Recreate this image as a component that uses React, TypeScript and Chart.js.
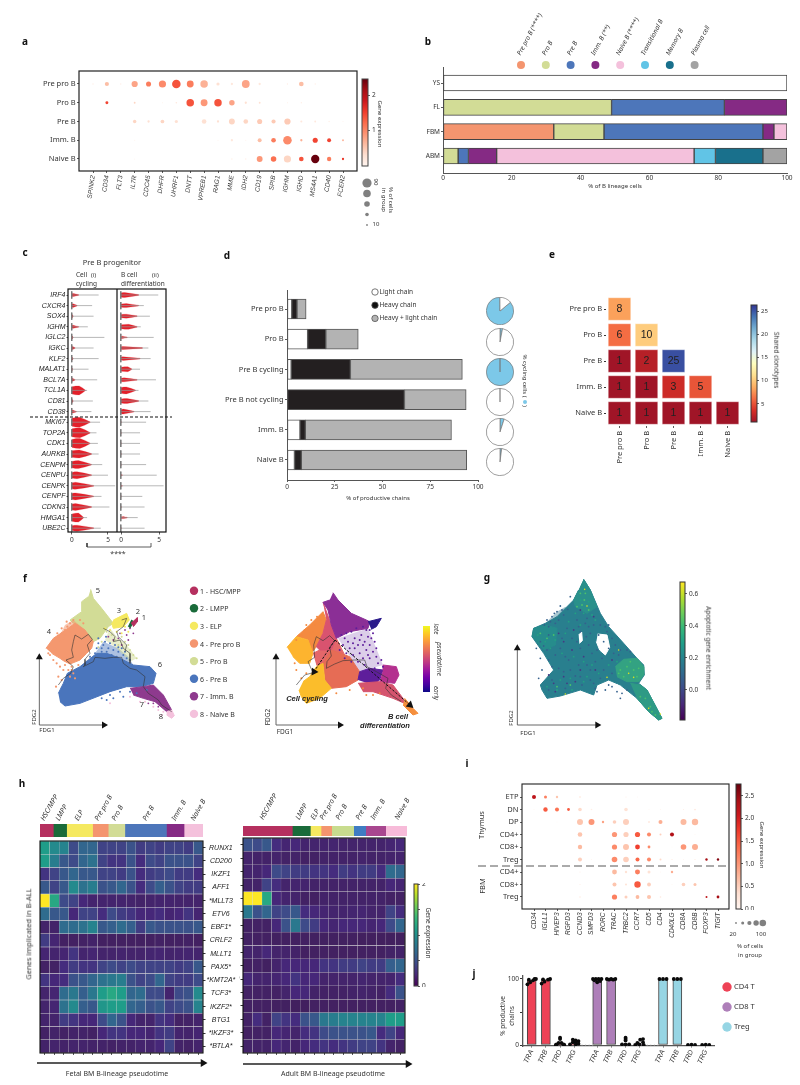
import React, { useEffect, useRef } from "react";
import { Chart, registerables } from "chart.js";
Chart.register(...registerables);

const SANS = '"Noto Sans", sans-serif';
const GENE = '"Liberation Sans", Arial, sans-serif';

/* ---------- colours ---------- */
const REDS = ["#FFF5F0", "#FEE0D2", "#FCBBA1", "#FC9272", "#FB6A4A", "#EF3B2C", "#CB181D", "#A50F15", "#67000D"];
const VIRIDIS = ["#440154", "#482878", "#3E4A89", "#31688E", "#26828E", "#1F9E89", "#35B779", "#6DCD59", "#B4DE2C", "#FDE725"];
const HEATMAP = ["#42205E", "#46287C", "#3E4A89", "#31688E", "#26828E", "#1F9E89", "#35B779", "#6DCD59", "#B4DE2C", "#FDE725"];
const PLASMA = ["#0D0887", "#46039F", "#7201A8", "#9C179E", "#BD3786", "#D8576B", "#ED7953", "#FB9F3A", "#FDCA26", "#F0F921"];
const RDYLBU = ["#A01527", "#D73027", "#F46D43", "#FDAE61", "#FEE090", "#FFFFBF", "#E0F3F8", "#ABD9E9", "#74ADD1", "#4575B4", "#313695"];
const C = { prepro: "#F4956F", pro: "#D2DC96", pre: "#4D76BA", imm: "#852A84", naive: "#F4C1DC", trans: "#61C4E6", mem: "#19708C", plasma: "#A3A3A3", hsc: "#B5305F", lmpp: "#1A6B3A", elp: "#F5E960" };

function mix(stops: string[], t: number) {
  const u = Math.max(0, Math.min(1, t)) * (stops.length - 1);
  const i = Math.min(stops.length - 2, Math.floor(u));
  const f = u - i;
  const p = (h: string, k: number) => parseInt(h.slice(1 + k * 2, 3 + k * 2), 16);
  const c = [0, 1, 2].map((k) => Math.round(p(stops[i], k) * (1 - f) + p(stops[i + 1], k) * f));
  return `rgb(${c[0]},${c[1]},${c[2]})`;
}

/* ---------- panel a ---------- */
const aGenes = ["SPINK2", "CD34", "FLT3", "IL7R", "CDC45", "DHFR", "UHRF1", "DNTT", "VPREB1", "RAG1", "MME", "IDH2", "CD19", "SPIB", "IGHM", "IGHD", "MS4A1", "CD40", "FCER2"];
const aRows = ["Pre pro B", "Pro B", "Pre B", "Imm. B", "Naive B"];
const aPct = [
  [2, 20, 2, 45, 30, 60, 85, 55, 65, 12, 6, 70, 6, 0, 2, 25, 2, 0, 0],
  [0, 10, 0, 4, 0, 1, 3, 65, 55, 65, 35, 6, 4, 0, 1, 2, 0, 0, 0],
  [0, 0, 0, 14, 6, 16, 12, 0, 25, 6, 40, 25, 30, 20, 45, 5, 4, 2, 1],
  [0, 0, 0, 1, 0, 0, 0, 0, 0, 1, 6, 1, 18, 25, 85, 6, 30, 18, 4],
  [0, 0, 0, 1, 0, 0, 0, 0, 0, 0, 2, 2, 40, 35, 60, 25, 80, 22, 6],
];
const aExpr = [
  [0.1, 0.6, 0.1, 0.8, 1.1, 1, 1.4, 1.1, 0.7, 0.3, 0.2, 0.8, 0.2, 0, 0.1, 0.6, 0.1, 0, 0],
  [0, 1.5, 0, 0.4, 0, 0.05, 0.2, 1.4, 0.9, 1.4, 0.8, 0.3, 0.3, 0, 0.1, 0.1, 0, 0, 0],
  [0, 0, 0, 0.4, 0.3, 0.4, 0.3, 0, 0.3, 0.3, 0.4, 0.4, 0.5, 0.5, 0.5, 0.2, 0.2, 0.1, 0.05],
  [0, 0, 0, 0.05, 0, 0, 0, 0, 0, 0.05, 0.2, 0.05, 0.6, 1.1, 1, 0.7, 1.5, 1.5, 0.7],
  [0, 0, 0, 0.05, 0, 0, 0, 0, 0, 0, 0.1, 0.1, 0.9, 1.2, 0.4, 1.4, 2.5, 1.1, 1.6],
];

/* ---------- panel b ---------- */
const bRows = ["YS", "FL", "FBM", "ABM"];
const bNone = [100, 0, 0, 0];
const bPrePro = [0, 0, 32.2, 0];
const bPro = [0, 49, 14.6, 4.4];
const bPre = [0, 32.8, 46.2, 3];
const bImm = [0, 18.2, 3.2, 8.2];
const bNaive = [0, 0, 3.8, 57.4];
const bTrans = [0, 0, 0, 6.2];
const bMem = [0, 0, 0, 13.8];
const bPlasma = [0, 0, 0, 7];
const bLegend = ["Pre pro B (****)", "Pro B", "Pre B", "Imm. B (**)", "Naive B (****)", "Transitional B", "Memory B", "Plasma cell"];

/* ---------- panel c ---------- */
const cGenes = ["IRF4", "CXCR4", "SOX4", "IGHM", "IGLC2", "IGKC", "KLF2", "MALAT1", "BCL7A", "TCL1A", "CD81", "CD38", "MKI67", "TOP2A", "CDK1", "AURKB", "CENPM", "CENPU", "CENPK", "CENPF", "CDKN3", "HMGA1", "UBE2C"];
const cTailA = [3.7, 2.8, 3, 2.2, 4.5, 3, 3.7, 2.3, 3.5, 2.1, 2.9, 2.7, 3.9, 3.4, 3.6, 3.7, 4.2, 5, 6, 4.1, 5.2, 2.1, 4];
const cBodyA = [0.9, 0.7, 0.15, 0.9, 0.15, 0.4, 0.15, 0.1, 0.4, 1.85, 0.15, 0.6, 2.5, 2.5, 2.5, 2.7, 2.7, 2.7, 3, 3, 2.7, 1.6, 3];
const cPeakA = [0.2, 0.15, 0.05, 0.2, 0.05, 0.1, 0.05, 0.05, 0.1, 1, 0.05, 0.1, 1, 1.1, 1.1, 1, 0.9, 0.7, 0.5, 0.5, 0.5, 0.9, 0.7];
const cDensA = [1.5, 1.8, 1.5, 1.5, 1.5, 1.5, 1.5, 1.2, 1.5, 4.5, 1.5, 1.5, 5, 5, 5, 4, 4, 3.5, 3.5, 3.5, 3.5, 4.5, 3];
const cTailB = [4.9, 3, 3.8, 2.6, 4.3, 3.6, 3.9, 2.5, 4.6, 2.3, 3.6, 3.9, 3.3, 2.5, 2.5, 2.5, 3.3, 4.7, 5.6, 2.8, 3.1, 2.2, 3.1];
const cBodyB = [2.3, 2.3, 2.1, 2.1, 0.8, 2.8, 2.5, 1.4, 2.1, 1.9, 2.3, 1.7, 0.1, 0.1, 0.1, 0.1, 0.1, 0.15, 0.15, 0.1, 0.1, 0.8, 0.1];
const cPeakB = [0.5, 0.7, 0.7, 1, 0.2, 0.3, 0.3, 0.9, 0.4, 0.7, 0.8, 0.3, 0.05, 0.05, 0.05, 0.05, 0.05, 0.05, 0.05, 0.05, 0.05, 0.3, 0.05];
const cDensB = [2.5, 2, 2, 2.5, 1.2, 1.5, 1.8, 2.5, 2, 3.5, 2.5, 2.5, 0.8, 0.8, 0.8, 0.8, 0.8, 0.8, 0.8, 0.8, 0.8, 1, 0.8];

/* ---------- panel d ---------- */
const dRows = ["Pre pro B", "Pro B", "Pre B cycling", "Pre B not cycling", "Imm. B", "Naive B"];
const dLight = [2.5, 10.8, 2.2, 0, 6.8, 3.9];
const dHeavy = [2.7, 9.5, 31, 61.5, 2.8, 3.6];
const dBoth = [4.8, 17, 58.6, 32.3, 76.5, 86.6];
const dCycling = [86, 3, 100, 0, 5, 2];

/* ---------- panel e ---------- */
const eLabels = ["Pre pro B", "Pro B", "Pre B", "Imm. B", "Naive B"];
const eValues = [[8], [6, 10], [1, 2, 25], [1, 1, 3, 5], [1, 1, 1, 1, 1]];

/* ---------- panel f (in FDG units) ---------- */
const fLegend = ["1 - HSC/MPP", "2 - LMPP", "3 - ELP", "4 - Pre pro B", "5 - Pro B", "6 - Pre B", "7 - Imm. B", "8 - Naive B"];
type P = number[][];
const fProB: P = [[182, 58], [190, 85], [215, 115], [250, 160], [235, 170], [210, 205], [190, 215], [165, 180], [130, 160], [120, 150], [155, 125], [155, 95], [175, 80]];
const fPrePro: P = [[48, 235], [70, 205], [110, 178], [135, 160], [165, 180], [190, 215], [185, 235], [170, 250], [150, 270], [120, 282], [100, 272], [90, 265], [65, 250]];
const fPreProFuzz: P = [[85, 205], [105, 165], [130, 150], [165, 180], [120, 190]];
const fPre: P = [[85, 370], [100, 340], [112, 310], [150, 290], [200, 250], [230, 250], [270, 265], [310, 285], [360, 290], [378, 310], [370, 340], [335, 350], [290, 350], [240, 365], [150, 400], [105, 408], [90, 395]];
const fPreFuzz: P = [[195, 250], [220, 215], [265, 235], [295, 260], [310, 285], [230, 252]];
const fGreenFuzz: P = [[240, 175], [260, 200], [290, 225], [320, 265], [300, 275], [260, 235], [225, 210]];
const fImm: P = [[300, 355], [340, 350], [370, 345], [400, 375], [425, 420], [410, 425], [375, 395], [340, 385], [310, 375]];
const fNaive: P = [[410, 425], [425, 420], [433, 437], [425, 445], [410, 435]];
const fElp: P = [[250, 150], [290, 130], [298, 150], [280, 170], [250, 175], [245, 160]];
const fHsc: P = [[303, 160], [322, 143], [322, 155], [310, 170]];
const fLmpp: P = [[295, 170], [305, 150], [310, 155], [300, 175]];
const fDotsOrange: P = [[105, 180], [112, 170], [120, 160], [130, 150], [95, 190], [85, 200], [140, 165], [120, 185], [105, 195], [150, 150], [128, 172], [160, 160], [100, 205], [92, 215], [75, 235], [80, 280], [70, 270], [100, 300], [120, 320], [130, 310], [90, 290], [115, 300], [60, 255], [55, 250], [85, 320], [95, 330], [78, 350], [125, 300], [135, 325], [110, 155], [95, 175], [82, 190], [105, 285], [125, 290], [145, 285]];
const fDotsBlue: P = [[200, 235], [220, 225], [215, 245], [235, 235], [250, 240], [240, 220], [265, 245], [280, 255], [225, 215], [205, 220], [255, 225], [290, 265], [300, 270], [275, 235], [245, 255], [215, 235], [195, 250], [230, 245], [260, 260], [180, 260], [170, 275], [285, 245], [120, 330], [105, 345], [95, 355], [200, 375], [240, 375], [270, 365], [300, 365], [320, 370], [280, 380], [250, 385], [350, 360], [230, 390], [215, 385], [265, 232], [205, 205], [228, 200]];
const fDotsGreen: P = [[230, 185], [245, 195], [255, 210], [265, 225], [285, 215], [300, 240], [310, 255], [320, 265], [275, 200], [295, 225], [215, 215], [205, 232]];
const fDotsPurple: P = [[250, 210], [270, 190], [290, 195], [300, 175], [285, 180], [265, 205], [310, 190], [295, 210], [330, 365], [320, 375], [345, 380], [360, 385], [370, 400], [385, 410], [355, 400], [235, 200], [275, 225]];
const fDotsPink: P = [[385, 420], [400, 425], [395, 435], [370, 410], [345, 395], [240, 400], [300, 380], [330, 395]];
const fDotsYellow: P = [[225, 175], [240, 180], [260, 185], [275, 190], [295, 185], [285, 170]];
const fTrackA: P = [[85, 345], [100, 325], [122, 310], [130, 290], [108, 270], [130, 262], [125, 240], [130, 215], [135, 195], [155, 207], [175, 193], [187, 208], [172, 225], [180, 250], [165, 268], [165, 285], [160, 290], [190, 275], [195, 262], [225, 265], [250, 262], [275, 262], [280, 280], [300, 295], [320, 300], [345, 320], [340, 350], [355, 370], [385, 390], [395, 405], [425, 425]];
const fTrackB: P = [[220, 175], [240, 185], [255, 200], [250, 215], [270, 210], [280, 235], [300, 250], [300, 280]];
const fTrackC: P = [[275, 150], [290, 145], [280, 170], [260, 185], [265, 200], [290, 225], [285, 245]];

const ptUpper: P = [[800, 200], [840, 165], [880, 125], [890, 150], [880, 190], [860, 230], [845, 250], [835, 210]];
const ptLeft: P = [[772, 232], [800, 200], [835, 210], [850, 250], [840, 280], [810, 280], [790, 260]];
const ptPink: P = [[880, 97], [905, 165], [920, 205], [905, 240], [870, 240], [860, 230], [880, 190], [890, 150]];
const ptTop: P = [[910, 68], [925, 90], [965, 130], [1010, 150], [1020, 155], [1015, 175], [960, 185], [920, 205], [905, 165], [895, 120], [880, 97], [900, 90]];
const ptTip: P = [[1015, 155], [1055, 145], [1040, 170], [1025, 178]];
const ptMid: P = [[850, 250], [870, 240], [905, 240], [920, 205], [945, 255], [905, 295], [860, 285]];
const ptLowMid: P = [[880, 280], [905, 240], [960, 260], [990, 305], [985, 330], [950, 350], [905, 355], [885, 330]];
const ptLowLeft: P = [[820, 335], [840, 320], [860, 290], [880, 280], [885, 330], [905, 355], [870, 385], [830, 400], [815, 380], [808, 360]];
const ptViolet: P = [[985, 330], [990, 305], [1020, 295], [1060, 300], [1050, 330], [1030, 345]];
const ptMagenta: P = [[1060, 300], [1060, 285], [1100, 290], [1108, 315], [1095, 340], [1050, 335]];
const ptTail: P = [[985, 340], [1050, 335], [1090, 345], [1120, 385], [1125, 400], [1090, 385], [1030, 365], [1000, 365]];
const ptEnd: P = [[1125, 385], [1150, 415], [1165, 430], [1150, 435], [1120, 405]];
const ptFuzz: P = [[925, 205], [1015, 175], [1060, 285], [990, 305], [960, 258]];
const ptDotsPurple: P = [[935, 195], [950, 190], [965, 185], [980, 175], [1000, 170], [1020, 180], [1030, 190], [1015, 200], [995, 195], [975, 205], [955, 215], [940, 225], [960, 235], [985, 225], [1005, 215], [1020, 225], [1035, 215], [1010, 240], [990, 250], [970, 255], [950, 250], [1000, 265], [1020, 265], [1040, 260], [1030, 245], [985, 275], [1005, 285], [1045, 280], [1055, 270], [965, 275], [945, 265], [930, 240], [975, 235], [1000, 225], [1015, 255], [1060, 290], [1035, 295], [1010, 180], [990, 210], [945, 205], [1025, 205], [970, 220], [1040, 235]];
const ptDotsOrange: P = [[810, 195], [825, 180], [840, 190], [855, 165], [870, 160], [830, 165], [850, 185], [800, 210], [818, 195], [845, 150], [862, 140], [875, 150], [800, 300], [815, 325], [830, 310], [795, 280], [1010, 375], [1030, 375], [1050, 370], [1000, 355], [960, 360], [920, 370]];
const ptTrack: P = [[800, 345], [825, 315], [850, 308], [835, 275], [855, 262], [852, 225], [860, 200], [880, 212], [900, 197], [915, 212], [900, 232], [905, 258], [892, 275], [890, 295], [915, 282], [940, 272], [975, 270], [1005, 270], [1012, 290], [1040, 305], [1075, 325], [1068, 355], [1085, 375], [1115, 395]];

/* ---------- panel g ---------- */
const gBody: P = [[310, 28], [330, 60], [360, 130], [385, 170], [430, 220], [470, 265], [490, 285], [492, 315], [475, 340], [500, 360], [545, 445], [535, 450], [505, 425], [470, 385], [420, 345], [385, 330], [350, 345], [340, 375], [300, 360], [240, 378], [200, 385], [185, 360], [180, 345], [220, 300], [190, 250], [155, 200], [160, 175], [195, 160], [230, 140], [280, 90], [295, 60]];
const gTop: P = [[310, 28], [330, 60], [350, 110], [320, 130], [285, 110], [280, 90], [295, 60]];
const gLeft: P = [[155, 200], [160, 175], [195, 165], [230, 175], [225, 225], [190, 240]];
const gRight: P = [[405, 290], [430, 268], [470, 265], [490, 290], [490, 315], [475, 335], [440, 335], [410, 320]];
const gTailArea: P = [[450, 340], [480, 345], [500, 360], [545, 445], [535, 450], [505, 425], [470, 385]];
const gHoleA: P = [[352, 192], [380, 195], [388, 232], [375, 255], [358, 240], [348, 215]];
const gHoleB: P = [[295, 195], [304, 186], [306, 212], [297, 220]];
const gHoleC: P = [[378, 338], [412, 345], [398, 355], [380, 350], [360, 346]];
const gFuzz: P = [[195, 160], [230, 125], [255, 110], [270, 135], [230, 170]];
const gDotsDark: P = [[200, 150], [215, 140], [230, 125], [240, 108], [245, 120], [222, 130], [210, 155], [235, 150], [250, 135], [262, 118], [270, 80], [192, 165], [205, 170], [225, 160], [295, 170], [300, 185], [315, 160], [325, 170], [340, 165], [360, 165], [375, 170], [385, 165], [380, 185], [395, 205], [405, 225], [420, 240], [415, 255], [400, 250], [385, 235], [370, 215], [355, 195], [330, 190], [318, 200], [290, 215], [300, 235], [325, 225], [350, 240], [365, 265], [335, 250], [440, 240], [450, 245], [375, 360], [395, 350], [410, 365], [425, 370], [350, 365], [440, 360], [420, 385], [340, 340], [345, 355], [330, 330], [360, 325], [305, 345], [385, 345], [190, 228], [168, 235], [180, 265], [185, 300], [175, 325], [215, 290], [225, 255], [205, 270], [200, 240], [240, 235], [255, 260], [270, 300], [320, 145], [290, 150], [260, 175], [275, 205], [245, 205], [205, 195], [180, 215], [235, 295], [265, 270], [295, 285], [320, 285], [345, 275], [300, 320], [250, 305], [215, 330], [205, 360], [255, 355], [285, 318], [330, 300], [370, 300], [395, 310]];
const gDotsTeal: P = [[300, 90], [325, 95], [310, 130], [335, 135], [285, 130], [265, 155], [300, 165], [345, 150], [255, 190], [225, 210], [195, 215], [172, 195], [210, 235], [245, 250], [280, 260], [310, 275], [335, 285], [355, 310], [385, 285], [410, 275], [240, 330], [200, 350], [270, 325], [310, 335], [230, 360], [275, 360], [320, 320]];
const gDotsPurple: P = [[250, 215], [275, 240], [300, 300], [310, 260], [220, 340], [260, 340], [345, 300], [395, 270], [340, 140], [300, 120], [280, 180], [235, 190], [205, 315], [250, 320], [225, 365], [285, 335]];
const gDotsGreen: P = [[300, 70], [312, 90], [325, 120], [290, 110], [180, 190], [200, 205], [220, 195], [420, 300], [440, 290], [460, 300], [470, 320], [430, 320], [480, 380], [510, 410], [525, 435], [230, 350], [270, 345], [315, 70], [305, 105], [450, 275], [475, 295], [415, 310], [495, 385], [515, 425]];
const gDotsYellow: P = [[313, 58], [320, 108], [415, 240], [380, 322], [445, 310], [460, 322], [540, 432], [505, 415], [255, 372]];

/* ---------- panel h ---------- */
const hGenes = ["RUNX1", "CD200", "IKZF1", "AFF1", "*MLLT3", "ETV6", "EBF1*", "CRLF2", "MLLT1", "PAX5*", "*KMT2A*", "TCF3*", "IKZF2*", "BTG1", "*IKZF3*", "*BTLA*"];
const hFetal = [
  [1.1, 0.95, 0.9, 0.45, 0.65, 0.65, 0.4, 0.4, 0.4, 0.5, 0.35, 0.4, 0.35, 0.4, 0.4, 0.35, 0.55],
  [1.1, 0.85, 0.55, 0.45, 0.65, 0.75, 0.4, 0.3, 0.3, 0.5, 0.25, 0.45, 0.4, 0.5, 0.5, 0.5, 0.4],
  [0.3, 0.4, 0.55, 0.65, 0.55, 0.55, 0.4, 0.4, 0.35, 0.5, 0.25, 0.35, 0.4, 0.45, 0.35, 0.35, 0.25],
  [0.55, 0.4, 0.55, 0.95, 0.75, 0.85, 0.5, 0.55, 0.65, 0.5, 0.25, 0.45, 0.6, 0.5, 0.4, 0.35, 0.35],
  [2, 1.2, 0.45, 0.4, 0.2, 0.12, 0.12, 0.12, 0.12, 0.1, 0.08, 0.1, 0.12, 0.12, 0.1, 0.1, 0.1],
  [0.7, 0.55, 0.55, 0.2, 0.4, 0.4, 0.25, 0.45, 0.35, 0.3, 0.2, 0.2, 0.25, 0.15, 0.2, 0.3, 0.15],
  [0.08, 0.08, 0.7, 0.7, 0.75, 0.9, 0.55, 0.6, 0.7, 0.6, 0.35, 0.55, 0.5, 0.5, 0.5, 0.5, 0.55],
  [0.35, 0.15, 0.04, 0.04, 0.05, 0.08, 0.03, 0.03, 0.03, 0.03, 0.03, 0.03, 0.05, 0.03, 0.04, 0.05, 0.03],
  [0.15, 0.12, 0.15, 0.3, 0.12, 0.15, 0.1, 0.1, 0.12, 0.1, 0.1, 0.13, 0.15, 0.1, 0.12, 0.13, 0.12],
  [0.05, 0.05, 0.25, 0.35, 0.3, 0.3, 0.4, 0.45, 0.4, 0.45, 0.4, 0.4, 0.4, 0.4, 0.35, 0.4, 0.55],
  [0.3, 0.2, 0.25, 0.5, 0.55, 0.65, 0.75, 0.8, 0.85, 0.5, 0.4, 0.45, 0.65, 0.4, 0.35, 0.35, 0.45],
  [0.1, 0.15, 0.7, 0.8, 0.6, 0.8, 1.1, 1.2, 1.1, 0.65, 0.7, 0.45, 0.45, 0.12, 0.45, 0.5, 0.95],
  [0.1, 0.15, 0.75, 0.95, 0.6, 0.55, 1.05, 1.1, 1.1, 0.65, 0.6, 0.5, 0.55, 0.4, 0.45, 0.5, 0.9],
  [0.1, 0.1, 0.35, 0.3, 0.2, 0.2, 0.45, 0.65, 0.5, 0.2, 0.1, 0.1, 0.3, 0.25, 0.05, 0.07, 0.1],
  [0.05, 0.08, 0.05, 0.08, 0.08, 0.05, 0.2, 0.3, 0.3, 0.2, 0.2, 0.15, 0.3, 0.35, 0.12, 0.1, 0.15],
  [0.08, 0.1, 0.08, 0.1, 0.1, 0.08, 0.08, 0.06, 0.08, 0.08, 0.12, 0.12, 0.2, 0.4, 0.08, 0.06, 0.1],
];
const hAdult = [
  [0.5, 0.45, 0.55, 0.25, 0.15, 0.2, 0.12, 0.12, 0.12, 0.13, 0.1, 0.1, 0.1, 0.1, 0.1, 0.15, 0.2],
  [0.1, 0.08, 0.08, 0.1, 0.07, 0.08, 0.05, 0.05, 0.08, 0.08, 0.08, 0.08, 0.1, 0.08, 0.08, 0.1, 0.12],
  [0.12, 0.12, 0.2, 0.45, 0.4, 0.35, 0.35, 0.3, 0.3, 0.25, 0.35, 0.3, 0.35, 0.35, 0.25, 0.7, 0.65],
  [0.08, 0.08, 0.4, 0.25, 0.1, 0.12, 0.12, 0.08, 0.08, 0.08, 0.08, 0.08, 0.08, 0.08, 0.08, 0.2, 0.15],
  [2, 2, 1.2, 0.2, 0.12, 0.1, 0.05, 0.04, 0.08, 0.08, 0.08, 0.08, 0.08, 0.08, 0.08, 0.05, 0.05],
  [0.8, 0.5, 0.65, 0.4, 0.45, 0.55, 0.25, 0.2, 0.15, 0.12, 0.12, 0.13, 0.15, 0.1, 0.1, 0.4, 0.25],
  [0.05, 0.05, 0.05, 0.2, 0.5, 0.8, 0.45, 0.35, 0.2, 0.15, 0.2, 0.2, 0.2, 0.15, 0.2, 0.45, 0.65],
  [0.05, 0.04, 0.04, 0.02, 0.02, 0.02, 0.03, 0.02, 0.02, 0.02, 0.02, 0.02, 0.01, 0.01, 0.01, 0.01, 0.01],
  [0.12, 0.1, 0.2, 0.1, 0.1, 0.08, 0.03, 0.03, 0.04, 0.03, 0.03, 0.03, 0.03, 0.03, 0.03, 0.07, 0.08],
  [0.04, 0.05, 0.02, 0.1, 0.2, 0.2, 0.2, 0.2, 0.3, 0.3, 0.35, 0.35, 0.4, 0.35, 0.35, 0.6, 0.65],
  [0.2, 0.12, 0.12, 0.15, 0.2, 0.3, 0.2, 0.2, 0.1, 0.1, 0.1, 0.1, 0.13, 0.1, 0.1, 0.12, 0.25],
  [0.05, 0.05, 0.05, 0.05, 0.1, 0.2, 0.2, 0.08, 0.06, 0.06, 0.06, 0.08, 0.1, 0.08, 0.06, 0.25, 0.5],
  [0.04, 0.04, 0.04, 0.02, 0.02, 0.01, 0.01, 0.03, 0.03, 0.03, 0.03, 0.03, 0.03, 0.03, 0.03, 0.03, 0.05],
  [0.06, 0.25, 0.06, 0.4, 0.3, 0.25, 0.5, 0.55, 0.8, 0.85, 0.9, 0.9, 0.9, 0.9, 0.9, 1.1, 1.1],
  [0.03, 0.05, 0.05, 0.2, 0.15, 0.1, 0.25, 0.3, 0.45, 0.5, 0.5, 0.5, 0.5, 0.55, 0.25, 0.4, 0.2],
  [0.08, 0.08, 0.08, 0.2, 0.13, 0.08, 0.2, 0.25, 0.3, 0.25, 0.3, 0.35, 0.4, 0.4, 0.3, 0.1, 0.05],
];
const hStages = ["HSC/MPP", "LMPP", "ELP", "Pre pro B", "Pro B", "Pre B", "Imm. B", "Naive B"];
const hFetalShare = [40, 40, 78, 47, 50, 125, 53, 57];
const hAdultShare = [148, 54, 32, 32, 66, 36, 60, 64];
const hStageColors = [C.hsc, C.lmpp, C.elp, C.prepro, C.pro, C.pre, C.imm, C.naive];
const hAdultColors = [C.hsc, C.lmpp, C.elp, C.prepro, "#C8DC8E", "#3F7CC2", "#A8478F", "#F7BBD9"];

/* ---------- panel i ---------- */
const iGenes = ["CD34", "IGLL1", "HIVEP3", "RGPD3", "CCND3", "SMPD3", "RORC", "TRAC", "TRBC2", "CCR7", "CD5", "CD4", "CD40LG", "CD8A", "CD8B", "FOXP3", "TIGIT"];
const iRows = ["ETP", "DN", "DP", "CD4+", "CD8+", "Treg", "CD4+", "CD8+", "Treg"];
const iPct = [
  [37, 21, 13, 0, 9, 0, 0, 0, 3, 2, 0, 0, 0, 0, 0, 0, 0],
  [2, 44, 37, 18, 30, 6, 0, 0, 30, 0, 2, 2, 0, 3, 7, 0, 0],
  [0, 0, 1, 0, 83, 83, 13, 30, 83, 0, 6, 37, 0, 83, 94, 0, 0],
  [0, 0, 0, 0, 49, 0, 0, 62, 62, 62, 37, 9, 37, 0, 1, 0, 0],
  [0, 0, 0, 0, 44, 0, 0, 62, 83, 53, 18, 0, 1, 72, 83, 0, 0],
  [0, 0, 0, 0, 37, 2, 0, 72, 72, 37, 37, 9, 3, 2, 3, 13, 13],
  [0, 0, 0, 0, 3, 0, 0, 53, 13, 57, 21, 1, 13, 0, 0, 0, 0],
  [0, 0, 0, 0, 3, 0, 0, 37, 9, 94, 33, 0, 1, 30, 21, 0, 0],
  [0, 0, 0, 0, 6, 0, 0, 62, 21, 33, 37, 6, 0, 0, 0, 9, 18],
];
const iExpr = [
  [2.2, 1.2, 0.6, 0, 0.1, 0, 0, 0, 0.1, 0.05, 0, 0, 0, 0, 0, 0, 0],
  [0.05, 1.5, 1.3, 1.5, 0.4, 0.1, 0, 0, 0.3, 0, 0.05, 0.1, 0, 0.1, 0.2, 0, 0],
  [0, 0, 0.05, 0, 0.6, 1, 0.9, 0.5, 0.5, 0, 0.4, 0.8, 0, 0.7, 0.7, 0, 0],
  [0, 0, 0, 0, 0.6, 0, 0, 1, 0.5, 1.5, 1.1, 0.5, 2.3, 0, 0.1, 0, 0],
  [0, 0, 0, 0, 0.7, 0, 0, 1.1, 0.6, 1.7, 1.1, 0, 0.05, 1, 0.8, 0, 0],
  [0, 0, 0, 0, 0.5, 0.1, 0, 1.1, 0.5, 1.4, 1.1, 0.4, 0.2, 0.1, 0.2, 2.4, 2.6],
  [0, 0, 0, 0, 0.1, 0, 0, 0.7, 0.3, 1.2, 0.3, 0.1, 0.8, 0, 0, 0, 0],
  [0, 0, 0, 0, 0.1, 0, 0, 0.6, 0.3, 1.5, 0.5, 0, 0.1, 0.5, 0.6, 0, 0],
  [0, 0, 0, 0, 0.15, 0, 0, 1.2, 0.5, 0.7, 0.6, 0.2, 0, 0, 0, 2.2, 2.4],
];

/* ---------- panel j ---------- */
const jLabels = ["TRA", "TRB", "TRD", "TRG", "TRA", "TRB", "TRD", "TRG", "TRA", "TRB", "TRD", "TRG"];
const jSlots = [0, 1, 2, 3, 4.62, 5.6, 6.62, 7.6, 9.26, 10.27, 11.27, 12.27];
const jMeans = [98, 99, 1, 1, 98, 99, 1, 1, 99, 99, 0.3, 0.3];
const jColors = ["#EE4256", "#EE4256", "#EE4256", "#EE4256", "#AE7FB9", "#AE7FB9", "#AE7FB9", "#AE7FB9", "#96D5E4", "#96D5E4", "#96D5E4", "#96D5E4"];
const jDots: number[][][] = [
  [[-0.3, 92], [-0.1, 95], [0.1, 98], [0.3, 100], [-0.2, 99], [0.2, 100]],
  [[-0.3, 93], [-0.1, 96], [0.15, 99], [0.3, 100], [-0.2, 99.5]],
  [[0, 11], [0, 9], [-0.25, 1], [0.25, 1], [-0.1, 3], [0.1, 3], [-0.3, 0], [0.3, 0]],
  [[-0.1, 8], [0.1, 7], [0.3, 6], [-0.1, 4], [0.1, 4.5], [-0.3, 1], [0.1, 1], [0.3, 2]],
  [[-0.3, 100], [-0.1, 100], [0.1, 100], [0.3, 100], [0, 95], [-0.2, 98], [0.2, 97]],
  [[-0.3, 100], [0, 100], [0.3, 100], [-0.15, 99], [0.15, 99]],
  [[0, 11], [0, 9], [0, 7], [-0.25, 1], [0.25, 1], [0, 1]],
  [[0.25, 9], [0.05, 8], [-0.15, 3], [0.25, 4], [-0.3, 0], [0, 1], [0.3, 0]],
  [[-0.25, 100], [0, 100], [0.25, 100]],
  [[-0.25, 100], [0, 100], [0.25, 100]],
  [[-0.25, 0], [0, 0.5], [0.25, 0]],
  [[-0.25, 0], [0, 0.5], [0.25, 0]],
];
const jGapDots = [3.55, 3.8, 4.05, 4.3, 8.15, 8.4, 8.65, 8.9];

/* ---------- helpers ---------- */
function rng(p0: number, v0: number, p1: number, v1: number, a: number, b: number) {
  const k = (v1 - v0) / (p1 - p0);
  return [v0 + (a - p0) * k, v0 + (b - p0) * k];
}
const framePlugin = {
  id: "frame",
  afterDraw(chart: any) {
    const f = chart.options.plugins.frame;
    if (!f || !f.width) return;
    const a = chart.chartArea;
    const c = chart.ctx;
    c.save();
    c.strokeStyle = f.color;
    c.lineWidth = f.width;
    c.strokeRect(a.left, a.top, a.right - a.left, a.bottom - a.top);
    c.restore();
  },
};
const cellText = {
  id: "cellText",
  afterDatasetsDraw(chart: any) {
    const ds = chart.data.datasets[0];
    if (!ds || !ds.cellValues) return;
    const meta = chart.getDatasetMeta(0);
    const c = chart.ctx;
    c.save();
    c.font = `10.5px ${GENE}`;
    c.fillStyle = "#222";
    c.textAlign = "center";
    c.textBaseline = "middle";
    meta.data.forEach((el: any, i: number) => c.fillText(String(ds.cellValues[i]), el.x, el.y));
    c.restore();
  },
};

type M = { t: number; r: number; b: number; l: number };
const M0: M = { t: 0, r: 0, b: 0, l: 0 };
type Box = { x: number; y: number; w: number; h: number };

function Plot({ box, m = M0, make }: { box: Box; m?: M; make: () => any }) {
  const ref = useRef<HTMLCanvasElement>(null);
  const W = Math.round(box.w + m.l + m.r);
  const H = Math.round(box.h + m.t + m.b);
  useEffect(() => {
    const cfg = make();
    const o = cfg.options || (cfg.options = {});
    o.responsive = false;
    o.maintainAspectRatio = false;
    o.animation = false;
    o.events = [];
    o.plugins = { legend: { display: false }, tooltip: { enabled: false }, ...(o.plugins || {}) };
    const right = o.scales && o.scales.y && o.scales.y.position === "right";
    if (o.scales) {
      o.layout = { autoPadding: false, padding: { top: m.t, bottom: 0, right: right ? 0 : m.r, left: right ? m.l : 0 } };
      const zero = (s: any) => {
        s.paddingLeft = s.paddingRight = s.paddingTop = s.paddingBottom = 0;
      };
      o.scales.x.afterFit = (s: any) => {
        s.height = m.b;
        zero(s);
      };
      o.scales.y.afterFit = (s: any) => {
        s.width = right ? m.r : m.l;
        zero(s);
      };
    } else {
      o.layout = { autoPadding: false, padding: 0 };
    }
    cfg.plugins = [framePlugin, cellText];
    const chart = new Chart(ref.current as any, cfg);
    return () => chart.destroy();
  }, []);
  return <canvas ref={ref} width={W} height={H} style={{ position: "absolute", left: Math.round(box.x - m.l), top: Math.round(box.y - m.t), width: W, height: H }} />;
}

function hidden(min: number, max: number, extra: any = {}) {
  return { type: "linear", min, max, offset: false, display: true, grid: { display: false, offset: false }, border: { display: false }, ticks: { display: false }, ...extra };
}
function ticked(min: number, max: number, vals: number[], labels: string[], o: any = {}) {
  const { size = 7, family = SANS, style = "normal", color = "#333", rot = 0, tl = 2.5, tw = 0.8, pad = 1.5, border = false, bcolor = "#444", bw = 1, crossAlign = "near", reverse = false, position, stacked } = o;
  const s: any = {
    type: "linear",
    min,
    max,
    reverse,
    offset: false,
    afterBuildTicks: (a: any) => {
      a.ticks = vals.map((value) => ({ value }));
    },
    grid: { display: true, offset: false, drawOnChartArea: false, drawTicks: true, tickLength: tl, tickWidth: tw, tickColor: "#333", color: "rgba(0,0,0,0)" },
    border: { display: border, color: bcolor, width: bw },
    ticks: { display: true, autoSkip: false, padding: pad, color, crossAlign, font: { size, family, style }, maxRotation: rot, minRotation: rot, callback: (_: any, i: number) => labels[i] },
  };
  if (position) s.position = position;
  if (stacked) s.stacked = true;
  return s;
}
const seq = (n: number) => Array.from({ length: n }, (_, i) => i);
const poly = (color: string, pts: P, bw = 1) => ({ data: pts.map(([x, y]) => ({ x, y })), showLine: true, fill: "shape", backgroundColor: color, borderColor: color, borderWidth: bw, pointRadius: 0 });
const dots = (color: string, pts: P, r = 1) => ({ data: pts.map(([x, y]) => ({ x, y })), showLine: false, pointRadius: r, pointBackgroundColor: color, pointBorderWidth: 0 });
const track = (pts: P, color = "#333", w = 0.6) => ({ data: pts.map(([x, y]) => ({ x, y })), showLine: true, borderColor: color, borderWidth: w, pointRadius: 0, fill: false });
const paint = (list: any[]) => list.map((d, i) => ({ ...d, order: list.length - i }));

function matrixDots(pct: number[][], expr: number[][], radius: (p: number) => number, color: (e: number) => string) {
  const data: any[] = [];
  const bg: string[] = [];
  pct.forEach((row, y) =>
    row.forEach((p, x) => {
      if (!p) return;
      data.push({ x, y, r: radius(p) });
      bg.push(color(expr[y][x]));
    })
  );
  return { data, backgroundColor: bg, borderWidth: 0 };
}

function T({ x, y, s = 7.5, rot = 0, it = false, a = "c", w = 400, col = "#333", f = SANS, children }: any) {
  const tx = a === "c" ? "translate(-50%,-50%)" : a === "r" ? "translate(-100%,-50%)" : "translateY(-50%)";
  const origin = a === "c" ? "center center" : a === "r" ? "right center" : "left center";
  return (
    <div style={{ position: "absolute", left: x, top: y, fontSize: s, fontFamily: f, fontStyle: it ? "italic" : "normal", fontWeight: w, color: col, whiteSpace: "nowrap", lineHeight: 1, transform: `${tx} rotate(${rot}deg)`, transformOrigin: origin }}>
      {children}
    </div>
  );
}

function DotRow({ x, y, dx = 0, dy = 0, colors, r, line }: { x: number; y: number; dx?: number; dy?: number; colors: string[]; r: number | number[]; line?: string }) {
  const n = colors.length;
  const left = Math.round(x - 8);
  const top = Math.round(y - 8);
  const w = Math.round(dx * (n - 1) + 16);
  const h = Math.round(dy * (n - 1) + 16);
  return (
    <Plot
      box={{ x: left, y: top, w, h }}
      make={() => ({
        type: "bubble",
        data: { datasets: [{ data: colors.map((_, i) => ({ x: dx ? i : 0, y: dy ? i : 0, r: Array.isArray(r) ? r[i] : r })), backgroundColor: colors, borderColor: line || "rgba(0,0,0,0)", borderWidth: line ? 0.8 : 0 }] },
        options: { scales: { x: hidden((left - x) / (dx || 1), (left + w - x) / (dx || 1)), y: hidden((top - y) / (dy || 1), (top + h - y) / (dy || 1), { reverse: true }) } },
      })}
    />
  );
}

function Colorbar({ box, min, max, stops, vals = [], labels = [], mr = 16, size = 6.5, border = "#333" }: any) {
  return (
    <Plot
      box={box}
      m={{ t: 1, r: mr, b: 1, l: 1 }}
      make={() => ({
        type: "bar",
        data: {
          labels: [""],
          datasets: [
            {
              data: [[min, max]],
              barPercentage: 1,
              categoryPercentage: 1,
              backgroundColor: (c: any) => {
                const a = c.chart.chartArea;
                if (!a) return stops[0];
                const g = c.chart.ctx.createLinearGradient(0, a.bottom, 0, a.top);
                stops.forEach((s: string, i: number) => g.addColorStop(i / (stops.length - 1), s));
                return g;
              },
            },
          ],
        },
        options: {
          plugins: { frame: { color: border, width: 1 } },
          scales: {
            x: { type: "category", display: true, grid: { display: false }, border: { display: false }, ticks: { display: false } },
            y: ticked(min, max, vals, labels, { position: "right", size, tl: 2, pad: 2 }),
          },
        },
      })}
    />
  );
}

function Violin({ box, m, tail, body, peak, dens, xMin, xMax, tickVals, showLabels }: any) {
  return (
    <Plot
      box={box}
      m={m}
      make={() => {
        const rowPx = 10.59;
        const sets: any[] = [];
        cGenes.forEach((_, i) => {
          const h = dens[i] / rowPx;
          const pk = peak[i];
          const bd = body[i];
          const top: P = [[0, i - h * 0.8], [pk * 0.5, i - h * 0.96], [pk, i - h], [(pk + bd) / 2, i - h * 0.6], [bd, i - 0.04]];
          const bottom: P = top.slice(0, -1).reverse().map(([x, y]) => [x, 2 * i - y]);
          sets.push(poly("#E3202A", [...top, [bd, i + 0.04], ...bottom], 0.2));
          sets.push(track([[0, i], [tail[i], i]], "#9A9A9A", 0.7));
          sets.push(track([[-0.03, i - 0.34], [-0.03, i + 0.34]], "#777", 0.9));
        });
        const [yMin, yMax] = rng(295, 0, 528.2, 22, 289, 532);
        return {
          type: "scatter",
          data: { datasets: paint(sets) },
          options: {
            plugins: { frame: { color: "#111", width: 1.2 } },
            scales: {
              x: ticked(xMin, xMax, tickVals, ["0", "5"], { size: 6.5, tl: 2.5, pad: 1.5 }),
              y: showLabels
                ? ticked(yMin, yMax, seq(23), cGenes, { size: 7, family: GENE, style: "italic", reverse: true, color: "#222", tl: 1.5, pad: 1 })
                : hidden(yMin, yMax, { reverse: true }),
            },
          },
        };
      }}
    />
  );
}

function Heat({ box, m, matrix, labelled }: any) {
  return (
    <Plot
      box={box}
      m={m}
      make={() => ({
        type: "bar",
        data: {
          labels: hGenes,
          datasets: seq(17).map((col) => ({
            data: hGenes.map(() => 1),
            backgroundColor: matrix.map((row: number[]) => mix(HEATMAP, row[col] / 2)),
            borderColor: "rgba(165,165,165,0.4)",
            borderWidth: 0.5,
            barPercentage: 1,
            categoryPercentage: 1,
          })),
        },
        options: {
          indexAxis: "y",
          plugins: { frame: { color: "#111", width: 1.1 } },
          scales: {
            x: { ...ticked(0, 17, seq(17).map((v) => v + 0.5), seq(17).map(() => ""), { tl: 2, pad: 0 }), stacked: true },
            y: {
              type: "category",
              stacked: true,
              position: labelled ? "right" : "left",
              grid: { display: true, drawOnChartArea: false, drawTicks: true, tickLength: 2.5, tickColor: "#333", color: "rgba(0,0,0,0)", offset: false },
              border: { display: false },
              ticks: { display: labelled, autoSkip: false, padding: 1, crossAlign: "center", color: "#222", font: { size: 7, family: GENE, style: "italic" } },
            },
          },
        },
      })}
    />
  );
}

function Strip({ box, shares, colors }: any) {
  const total = shares.reduce((a: number, b: number) => a + b, 0);
  return (
    <Plot
      box={box}
      make={() => ({
        type: "bar",
        data: { labels: [""], datasets: shares.map((v: number, i: number) => ({ data: [v], backgroundColor: colors[i], barPercentage: 1, categoryPercentage: 1, borderWidth: 0 })) },
        options: {
          indexAxis: "y",
          scales: {
            x: hidden(0, total, { stacked: true }),
            y: { type: "category", stacked: true, grid: { display: false }, border: { display: false }, ticks: { display: false } },
          },
        },
      })}
    />
  );
}

function Pie({ cx, cy, r, cycling, turn }: any) {
  const size = Math.round(r * 2 + 2);
  return (
    <Plot
      box={{ x: Math.round(cx - size / 2), y: Math.round(cy - size / 2), w: size, h: size }}
      make={() => ({
        type: "pie",
        data: { datasets: [{ data: [cycling, 100 - cycling], backgroundColor: ["#7CC8E8", "#FFFFFF"], borderColor: "#777", borderWidth: 0.7 }] },
        options: { rotation: turn, radius: "100%" },
      })}
    />
  );
}

function lineSet(pts: P, color = "#555", w = 1, dash?: number[]) {
  return { data: pts.map(([x, y]) => ({ x, y })), showLine: true, borderColor: color, borderWidth: w, borderDash: dash || [], pointRadius: 0, fill: false };
}
function headSet(x: number, y: number, deg: number, r = 4, color = "#111") {
  return { data: [{ x, y }], showLine: false, pointStyle: "triangle", pointRadius: r, pointRotation: deg, pointBackgroundColor: color, pointBorderWidth: 0 };
}
const Z6 = (zx: number, zy: number) => [30 + zx / 3, 570 + zy / 3];
const Z7 = (zx: number, zy: number) => [480 + zx / 3, 570 + zy / 3];

function Overlay() {
  const a = Z6(28, 465), b = Z6(28, 262), c = Z6(222, 465);
  const d = Z6(738, 465), e = Z6(738, 262), f = Z6(930, 465);
  const g = Z7(112, 465), h = Z7(112, 235), i = Z7(352, 465);
  const s1 = Z6(915, 210), s2 = Z6(852, 305), s3 = Z6(1140, 405);
  const ang = (p: number[], q: number[]) => (Math.atan2(q[1] - p[1], q[0] - p[0]) * 180) / Math.PI + 90;
  return (
    <Plot
      box={{ x: 0, y: 0, w: 800, h: 1085 }}
      make={() => ({
        type: "scatter",
        data: {
          datasets: paint([
            lineSet([[30, 417], [172, 417]], "#111", 1.1, [3, 2]),
            lineSet([[87, 543], [87, 547], [151, 547], [151, 543]], "#333", 0.8),
            lineSet([a, b], "#555", 0.9),
            lineSet([a, c], "#555", 0.9),
            headSet(b[0], b[1], 0),
            headSet(c[0], c[1], 90),
            lineSet([d, e], "#555", 0.9),
            lineSet([d, f], "#555", 0.9),
            headSet(e[0], e[1], 0),
            headSet(f[0], f[1], 90),
            lineSet([g, h], "#555", 0.9),
            lineSet([g, i], "#555", 0.9),
            headSet(h[0], h[1], 0),
            headSet(i[0], i[1], 90),
            lineSet([s1, s2], "#111", 1, [2.5, 1.5]),
            lineSet([s1, s3], "#111", 1, [2.5, 1.5]),
            headSet(s2[0], s2[1], ang(s1, s2), 4.5),
            headSet(s3[0], s3[1], ang(s1, s3), 4.5),
            lineSet([[37, 1063], [202, 1063]], "#222", 1.3),
            headSet(203, 1063, 90, 4.5),
            lineSet([[243, 1064], [407, 1064]], "#222", 1.3),
            headSet(408, 1064, 90, 4.5),
            lineSet([[478, 866], [729, 866]], "#444", 0.9, [8, 4]),
          ]),
        },
        options: { scales: { x: hidden(0, 800), y: hidden(0, 1085, { reverse: true }) } },
      })}
    />
  );
}

export default function App() {
  const [ax0, ax1] = rng(93, 0, 343, 18, 79, 357);
  const [ay0, ay1] = rng(84, 0, 159, 4, 71, 171);
  const [by0, by1] = rng(83, 0, 156, 3, 67, 173);
  const [dy0, dy1] = rng(309, 0, 460, 5, 290, 480);
  const [ex0, ex1] = rng(619.5, 0, 727.5, 4, 606, 741);
  const [ey0, ey1] = rng(309, 0, 413, 4, 296, 426);
  const [ix0, ix1] = rng(534, 0, 718, 16, 522, 729);
  const [iy0, iy1] = rng(797, 0, 897, 8, 784, 909);
  const [jx0, jx1] = rng(531.7, 0, 705.7, 12.27, 523, 714);
  const [jy0, jy1] = rng(1045, 0, 979, 100, 1046, 976);
  const aR = (p: number) => Math.max(0.5, Math.sqrt(p / 90) * 4.4);
  const iR = (p: number) => Math.max(0.4, Math.sqrt(p / 100) * 3.3);

  const bSeries: [number[], string][] = [[bNone, "#FFFFFF"], [bPrePro, C.prepro], [bPro, C.pro], [bPre, C.pre], [bImm, C.imm], [bNaive, C.naive], [bTrans, C.trans], [bMem, C.mem], [bPlasma, C.plasma]];
  const dSeries: [number[], string][] = [[dLight, "#FFFFFF"], [dHeavy, "#231F20"], [dBoth, "#B3B3B3"]];
  const stackData = (vals: number[]) => vals.map((x, y) => ({ x: x || null, y })).filter((d) => d.x !== null);

  return (
    <div style={{ position: "absolute", left: 0, top: 0, width: 800, height: 1085, background: "#fff", overflow: "hidden" }}>
      {/* a */}
      <Plot
        box={{ x: 79, y: 71, w: 278, h: 100 }}
        m={{ t: 2, r: 2, b: 44, l: 50 }}
        make={() => ({
          type: "bubble",
          data: { datasets: [matrixDots(aPct, aExpr, aR, (e) => mix(REDS, e / 2.5))] },
          options: {
            plugins: { frame: { color: "#222", width: 1.2 } },
            scales: {
              x: ticked(ax0, ax1, seq(19), aGenes, { size: 6.5, family: GENE, style: "italic", rot: 82, tl: 2, pad: 2 }),
              y: ticked(ay0, ay1, seq(5), aRows, { size: 7.5, reverse: true, tl: 2, pad: 1.5 }),
            },
          },
        })}
      />
      <Colorbar box={{ x: 362, y: 79, w: 6, h: 87 }} min={0} max={2.46} stops={REDS} vals={[1, 2]} labels={["1", "2"]} border="#444" />
      <DotRow x={367} y={183} dy={10.5} colors={["#808080", "#808080", "#808080", "#808080", "#808080"]} r={[4.6, 3.8, 2.8, 1.8, 0.9]} />

      {/* b */}
      <Plot
        box={{ x: 443, y: 67, w: 344, h: 106 }}
        m={{ t: 2, r: 10, b: 12, l: 22 }}
        make={() => ({
          type: "bar",
          data: { datasets: bSeries.map(([v, c]) => ({ data: stackData(v), backgroundColor: c, borderColor: "#444", borderWidth: 1, borderSkipped: false, barThickness: 16 })) },
          options: {
            indexAxis: "y",
            scales: {
              x: { ...ticked(0, 100, [0, 20, 40, 60, 80, 100], ["0", "20", "40", "60", "80", "100"], { size: 6.5, border: true, bcolor: "#555", tl: 0, pad: 1 }), stacked: true },
              y: { ...ticked(by0, by1, seq(4), bRows, { size: 6.5, reverse: true, border: true, bcolor: "#555", tl: 2, pad: 1 }), stacked: true },
            },
          },
        })}
      />
      <DotRow x={521} y={65} dx={24.8} colors={[C.prepro, C.pro, C.pre, C.imm, C.naive, C.trans, C.mem, C.plasma]} r={4} />

      {/* c */}
      <Violin box={{ x: 68, y: 289, w: 49, h: 243 }} m={{ t: 1, r: 0, b: 12, l: 38 }} tail={cTailA} body={cBodyA} peak={cPeakA} dens={cDensA} xMin={-0.55} xMax={6.25} tickVals={[0, 5]} showLabels />
      <Violin box={{ x: 117, y: 289, w: 49, h: 243 }} m={{ t: 1, r: 2, b: 12, l: 0 }} tail={cTailB} body={cBodyB} peak={cPeakB} dens={cDensB} xMin={-0.53} xMax={5.92} tickVals={[0, 5]} />

      {/* d */}
      <Plot
        box={{ x: 287, y: 290, w: 191, h: 190 }}
        m={{ t: 2, r: 10, b: 12, l: 62 }}
        make={() => ({
          type: "bar",
          data: { datasets: dSeries.map(([v, c]) => ({ data: stackData(v), backgroundColor: c, borderColor: "#555", borderWidth: 1, borderSkipped: false, barThickness: 20 })) },
          options: {
            indexAxis: "y",
            scales: {
              x: { ...ticked(0, 100, [0, 25, 50, 75, 100], ["0", "25", "50", "75", "100"], { size: 6.5, border: true, bcolor: "#555", tl: 2, pad: 1 }), stacked: true },
              y: { ...ticked(dy0, dy1, seq(6), dRows, { size: 7.5, reverse: true, border: true, bcolor: "#555", tl: 2, pad: 1.5 }), stacked: true },
            },
          },
        })}
      />
      <DotRow x={375} y={292} dy={13.2} colors={["#FFFFFF", "#111111", "#B3B3B3"]} r={3.2} line="#555" />
      {dCycling.map((v, i) => (
        <Pie key={i} cx={500} cy={[311, 342, 372, 402, 432, 462][i]} r={13} cycling={v} turn={i === 0 ? 50 : 0} />
      ))}

      {/* e */}
      <Plot
        box={{ x: 606, y: 296, w: 135, h: 130 }}
        m={{ t: 2, r: 2, b: 44, l: 50 }}
        make={() => {
          const data: any[] = [];
          const colors: string[] = [];
          const vals: number[] = [];
          eValues.forEach((row, y) =>
            row.forEach((v, x) => {
              data.push({ x, y });
              colors.push(mix(RDYLBU, (v - 1) / 25));
              vals.push(v);
            })
          );
          return {
            type: "scatter",
            data: { datasets: [{ data, cellValues: vals, pointStyle: "rect", pointRadius: 15.9, pointBackgroundColor: colors, pointBorderColor: "rgba(255,255,255,0.35)", pointBorderWidth: 1 }] },
            options: {
              scales: {
                x: ticked(ex0, ex1, seq(5), eLabels, { size: 7.5, rot: 90, tl: 2, pad: 3 }),
                y: ticked(ey0, ey1, seq(5), eLabels, { size: 7.5, reverse: true, tl: 2, tw: 1.2, pad: 2 }),
              },
            },
          };
        }}
      />
      <Colorbar box={{ x: 751, y: 305, w: 6, h: 117 }} min={1.1} max={26.3} stops={RDYLBU} vals={[5, 10, 15, 20, 25]} labels={["5", "10", "15", "20", "25"]} size={6} mr={14} />

      {/* f left */}
      <Plot
        box={{ x: 30, y: 570, w: 147, h: 170 }}
        make={() => ({
          type: "scatter",
          data: {
            datasets: paint([
              poly("rgba(74,117,188,0.45)", fPreFuzz, 0),
              poly("rgba(210,220,150,0.5)", fGreenFuzz, 0),
              poly(C.pro, fProB),
              poly("rgba(244,152,111,0.55)", fPreProFuzz, 0),
              poly("#F4986F", fPrePro),
              poly("#4A75BC", fPre),
              poly("#8E3A8E", fImm),
              poly(C.naive, fNaive),
              poly(C.elp, fElp),
              poly(C.lmpp, fLmpp),
              poly(C.hsc, fHsc),
              dots("#F4986F", fDotsOrange, 1.1),
              dots(C.pro, fDotsGreen, 1),
              dots("#4A75BC", fDotsBlue, 1),
              dots("#8E3A8E", fDotsPurple, 0.9),
              dots(C.naive, fDotsPink, 1),
              dots(C.elp, fDotsYellow, 1),
              track(fTrackA),
              track(fTrackB),
              track(fTrackC),
            ]),
          },
          options: { scales: { x: hidden(0, 441), y: hidden(0, 510, { reverse: true }) } },
        })}
      />
      <DotRow x={194} y={590.7} dy={17.6} colors={[C.hsc, C.lmpp, C.elp, C.prepro, C.pro, "#4A75BC", "#8E3A8E", C.naive]} r={4.2} />

      {/* f right */}
      <Plot
        box={{ x: 263, y: 570, w: 160, h: 170 }}
        make={() => ({
          type: "scatter",
          data: {
            datasets: paint([
              poly("rgba(94,30,155,0.22)", ptFuzz, 0),
              poly("#F48A40", ptUpper),
              poly("#FDB42F", ptLeft),
              poly("#E4676A", ptMid),
              poly("#D9536F", ptPink),
              poly("#8B2F96", ptTop),
              poly("#2A1A8A", ptTip),
              poly("#E66C55", ptLowMid),
              poly("#FBBD2B", ptLowLeft),
              poly("#5E1E9B", ptViolet),
              poly("#B4308F", ptMagenta),
              poly("#D5546E", ptTail),
              poly("#F58F3D", ptEnd),
              dots("#5E1E9B", ptDotsPurple, 1),
              dots("#F48A40", ptDotsOrange, 1),
              track(ptTrack),
            ]),
          },
          options: { scales: { x: hidden(700, 1180), y: hidden(0, 510, { reverse: true }) } },
        })}
      />
      <Colorbar box={{ x: 423, y: 626, w: 7, h: 66 }} min={0} max={1} stops={PLASMA} mr={2} border="rgba(0,0,0,0)" />

      {/* g */}
      <Plot
        box={{ x: 527, y: 570, w: 140, h: 170 }}
        make={() => ({
          type: "scatter",
          data: {
            datasets: paint([
              poly("rgba(42,120,142,0.4)", gFuzz, 0),
              poly("#297F8E", gBody),
              poly("#2A908B", gTop),
              poly("#268C8C", gLeft),
              poly("#33A282", gRight),
              poly("#2E9A85", gTailArea),
              poly("#FFFFFF", gHoleA),
              poly("#FFFFFF", gHoleB),
              poly("#FFFFFF", gHoleC),
              dots("#35608D", gDotsDark, 0.9),
              dots("#23A083", gDotsTeal, 0.9),
              dots("#443A83", gDotsPurple, 0.9),
              dots("#4AC16D", gDotsGreen, 0.9),
              dots("#E2E418", gDotsYellow, 0.8),
            ]),
          },
          options: { scales: { x: hidden(140, 560), y: hidden(0, 510, { reverse: true }) } },
        })}
      />
      <Colorbar box={{ x: 680, y: 582, w: 5, h: 138 }} min={-0.19} max={0.675} stops={VIRIDIS} vals={[0, 0.2, 0.4, 0.6]} labels={["0.0", "0.2", "0.4", "0.6"]} mr={18} />

      {/* h */}
      <Strip box={{ x: 40, y: 824, w: 163, h: 13 }} shares={hFetalShare} colors={hStageColors} />
      <Strip box={{ x: 243, y: 826, w: 164, h: 10 }} shares={hAdultShare} colors={hAdultColors} />
      <Heat box={{ x: 40, y: 841, w: 163, h: 212 }} m={{ t: 1, r: 37, b: 4, l: 1 }} matrix={hFetal} labelled />
      <Heat box={{ x: 243, y: 838, w: 162, h: 215 }} m={{ t: 1, r: 1, b: 4, l: 4 }} matrix={hAdult} />
      <Colorbar box={{ x: 414, y: 884, w: 4, h: 102 }} min={0} max={2} stops={VIRIDIS} vals={[0, 0.5, 1, 1.5, 2]} labels={["0", "", "", "", "2"]} mr={12} />

      {/* i */}
      <Plot
        box={{ x: 522, y: 784, w: 207, h: 125 }}
        m={{ t: 2, r: 2, b: 38, l: 30 }}
        make={() => ({
          type: "bubble",
          data: { datasets: [matrixDots(iPct, iExpr, iR, (e) => mix(REDS, e / 2.76))] },
          options: {
            plugins: { frame: { color: "#222", width: 1.1 } },
            scales: {
              x: ticked(ix0, ix1, seq(17), iGenes, { size: 6.5, family: GENE, style: "italic", rot: 90, tl: 2, pad: 1.5 }),
              y: ticked(iy0, iy1, seq(9), iRows, { size: 7.5, reverse: true, tl: 2, pad: 1.5 }),
            },
          },
        })}
      />
      <Colorbar box={{ x: 736, y: 784, w: 5, h: 125 }} min={0} max={2.76} stops={REDS} vals={[0, 0.5, 1, 1.5, 2, 2.5]} labels={["0.0", "0.5", "1.0", "1.5", "2.0", "2.5"]} mr={18} />
      <DotRow x={736} y={923} dx={6.7} colors={["#808080", "#808080", "#808080", "#808080", "#808080"]} r={[0.9, 1.5, 2.1, 2.7, 3.3]} />

      {/* j */}
      <Plot
        box={{ x: 523, y: 976, w: 191, h: 70 }}
        m={{ t: 2, r: 6, b: 22, l: 18 }}
        make={() => {
          const points: any[] = [];
          jDots.forEach((list, i) => list.forEach(([dx, y]) => points.push({ x: jSlots[i] + dx, y })));
          return {
            type: "bar",
            data: {
              datasets: [
                { type: "scatter", order: 0, data: points, pointRadius: 1.9, pointBackgroundColor: "#0A0A0A", pointBorderWidth: 0 },
                { type: "scatter", order: 1, data: jGapDots.map((x) => ({ x, y: 0 })), pointRadius: 0.6, pointBackgroundColor: "#AAAAAA", pointBorderWidth: 0 },
                { type: "bar", order: 2, data: jSlots.map((x, i) => ({ x, y: jMeans[i] })), backgroundColor: jColors, borderColor: "#444", borderWidth: 1, barThickness: 9, borderSkipped: false },
              ],
            },
            options: {
              scales: {
                x: ticked(jx0, jx1, jSlots, jLabels, { size: 7, family: GENE, style: "italic", rot: 65, border: true, bcolor: "#555", bw: 1.3, tl: 1.5, pad: 1 }),
                y: ticked(jy0, jy1, [0, 50, 100], ["0", "", "100"], { size: 6.5, border: true, bcolor: "#555", bw: 1.3, tl: 3, tw: 1, pad: 1 }),
              },
            },
          };
        }}
      />
      <DotRow x={727} y={987} dy={20} colors={["#EE4256", "#AE7FB9", "#96D5E4"]} r={4.7} />

      <Overlay />

      {/* panel letters */}
      {[["a", 25, 41], ["b", 428, 41], ["c", 25, 252], ["d", 227, 255], ["e", 552, 254], ["f", 25, 578], ["g", 487, 577], ["h", 22, 783], ["i", 467, 763], ["j", 474, 973]].map(([l, x, y]) => (
        <T key={l as string} x={x} y={y} s={10} w={700} col="#111">
          {l}
        </T>
      ))}

      {/* a text */}
      <T x={380} y={124} s={6} rot={90} col="#333">Gene expression</T>
      <T x={391} y={200} s={6} rot={90}>% of cells</T>
      <T x={384} y={200} s={6} rot={90}>in group</T>
      <T x={376} y={182} s={6} rot={90}>90</T>
      <T x={376} y={224} s={6}>10</T>

      {/* b text */}
      {bLegend.map((t, i) => (
        <T key={t} x={519 + 24.8 * i} y={55} a="l" s={6.5} it rot={-62}>{t}</T>
      ))}
      <T x={615} y={186} s={6}>%  of B lineage cells</T>

      {/* c text */}
      <T x={112} y={263} s={7.5}>Pre B progenitor</T>
      <T x={76} y={275} a="l" s={6.5}>Cell</T>
      <T x={91} y={275} a="l" s={6}>(i)</T>
      <T x={76} y={284} a="l" s={6.5}>cycling</T>
      <T x={121} y={275} a="l" s={6.5}>B cell</T>
      <T x={152} y={275} a="l" s={6}>(ii)</T>
      <T x={121} y={284} a="l" s={6.5}>differentiation</T>
      <T x={118} y={553} s={7}>****</T>

      {/* d text */}
      <T x={379.5} y={292} a="l" s={6.5}>Light chain</T>
      <T x={379.5} y={305} a="l" s={6.5}>Heavy chain</T>
      <T x={379.5} y={318} a="l" s={6.5}>Heavy + light chain</T>
      <T x={378} y={498} s={6}>% of productive chains</T>
      <T x={525} y={376} s={6} rot={90}>% cycling cells (</T>
      <T x={525} y={406} s={6} rot={90}>)</T>
      <DotRow x={525} y={402} colors={["#7CC8E8"]} r={2} />

      {/* e text */}
      <T x={776} y={360} s={6.5} rot={90}>Shared clonotypes</T>

      {/* f text */}
      <T x={98} y={591} s={7.5}>5</T>
      <T x={119} y={611} s={7.5}>3</T>
      <T x={138} y={612} s={7.5}>2</T>
      <T x={144} y={618} s={7.5}>1</T>
      <T x={49} y={632} s={7.5}>4</T>
      <T x={160} y={665} s={7.5}>6</T>
      <T x={142} y={705} s={7.5}>7</T>
      <T x={161} y={717} s={7.5}>8</T>
      {fLegend.map((t, i) => (
        <T key={t} x={200} y={590.7 + 17.6 * i} a="l" s={7}>{t}</T>
      ))}
      <T x={34} y={717} s={6} rot={-90}>FDG2</T>
      <T x={47} y={730} s={6}>FDG1</T>
      <T x={268} y={717} s={6.5} rot={-90}>FDG2</T>
      <T x={285} y={732} s={6.5}>FDG1</T>
      <T x={307} y={699} s={7.5} it w={600} col="#222" f={GENE}>Cell cycling</T>
      <T x={398} y={717} s={7.5} it w={600} col="#222" f={GENE}>B cell</T>
      <T x={385} y={726} s={7.5} it w={600} col="#222" f={GENE}>differentiation</T>
      <T x={436} y={629} s={6.5} it rot={90}>late</T>
      <T x={439} y={659} s={6.5} it rot={90}>pseudotime</T>
      <T x={436} y={693} s={6.5} it rot={90}>early</T>

      {/* g text */}
      <T x={511} y={718} s={6} rot={-90}>FDG2</T>
      <T x={528} y={733} s={6}>FDG1</T>
      <T x={708} y={648} s={6.5} rot={90}>Apoptotic gene enrichment</T>

      {/* h text */}
      {hStages.map((t, i) => (
        <T key={t} x={[42, 57, 76, 96, 113, 144, 173, 192][i]} y={820} a="l" s={7} it rot={-60}>{t}</T>
      ))}
      {hStages.map((t, i) => (
        <T key={t + "r"} x={[261, 297, 312, 321, 337, 357, 372, 396][i]} y={819} a="l" s={7} it rot={-60}>{t}</T>
      ))}
      <T x={29} y={934} s={7.5} rot={-90}>Genes implicated in B-ALL</T>
      <T x={117} y={1073} s={7}>Fetal BM B-lineage pseudotime</T>
      <T x={333} y={1073} s={7}>Adult BM B-lineage pseudotime</T>
      <T x={428} y={933} s={6.5} rot={90}>Gene expression</T>

      {/* i text */}
      <T x={482} y={825} s={7.5} rot={-90}>Thymus</T>
      <T x={483} y={886} s={7.5} rot={-90}>FBM</T>
      <T x={762} y={845} s={6} rot={90}>Gene expression</T>
      <T x={733} y={934} s={6}>20</T>
      <T x={761} y={934} s={6}>100</T>
      <T x={750} y={946} s={6}>% of cells</T>
      <T x={750} y={955} s={6}>in group</T>

      {/* j text */}
      <T x={503} y={1016} s={6.5} rot={-90}>% productive</T>
      <T x={512} y={1016} s={6.5} rot={-90}>chains</T>
      <T x={734} y={987} a="l" s={7.5}>CD4 T</T>
      <T x={734} y={1007} a="l" s={7.5}>CD8 T</T>
      <T x={734} y={1027} a="l" s={7.5}>Treg</T>
    </div>
  );
}
